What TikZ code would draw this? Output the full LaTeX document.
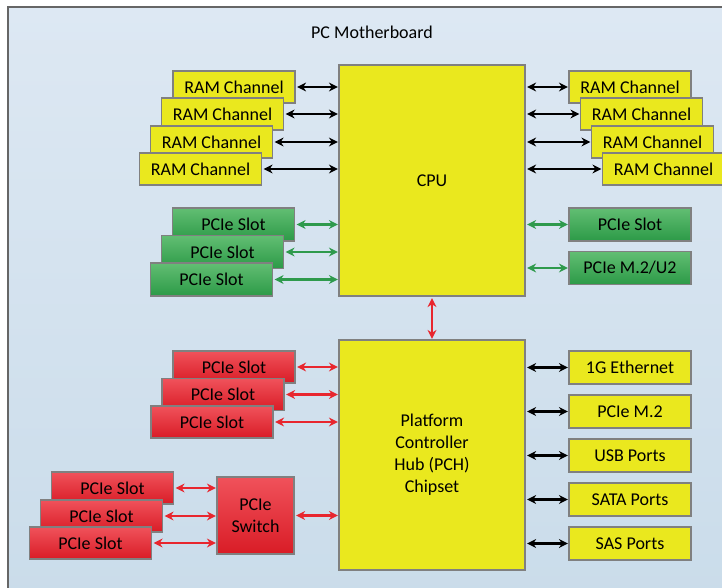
\documentclass[tikz,border=0pt]{standalone}
\usepackage{fontspec}
\setmainfont{Carlito}
\usetikzlibrary{arrows.meta}
\definecolor{bgtop}{HTML}{DDE8F3}
\definecolor{bgbot}{HTML}{CADCEA}
\definecolor{ylw}{HTML}{EAE81E}
\definecolor{grtop}{HTML}{62BE73}
\definecolor{grbot}{HTML}{2C9A47}
\definecolor{rdtop}{HTML}{F0525B}
\definecolor{rdbot}{HTML}{D91C26}
\definecolor{garr}{HTML}{2E9A4C}
\definecolor{rarr}{HTML}{E8262E}
\definecolor{edge}{HTML}{808080}
\tikzset{
  base/.style={draw=edge, line width=1.2pt, inner sep=0pt, font=\fontsize{18}{21}\selectfont, text=black},
  ybox/.style={base, fill=ylw, minimum width=122pt, minimum height=32pt},
  gbox/.style={base, top color=grtop, bottom color=grbot, minimum width=122pt, minimum height=33pt},
  rbox/.style={base, top color=rdtop, bottom color=rdbot, draw=black!50, minimum width=122pt, minimum height=32pt},
  link/.style={line width=2.6pt, {Stealth[length=9pt,width=9pt]}-{Stealth[length=9pt,width=9pt]}, shorten <=1.5pt, shorten >=0.5pt},
  blink/.style={link, draw=black},
  glink/.style={link, draw=garr},
  rlink/.style={link, draw=rarr},
}
\begin{document}
\begin{tikzpicture}[x=1pt, y=-1pt]
\useasboundingbox (0,0) rectangle (722,588);
\fill[white] (0,0) rectangle (722,588);
\shade[top color=bgtop, bottom color=bgbot] (8,7) rectangle (740,600);
\draw[black!60, line width=1.5pt] (8,600) -- (8,7) -- (740,7);
\node[font=\fontsize{18}{21}\selectfont] (title) at (372,32) {PC Motherboard};

% main chips
\node[base, fill=ylw, minimum width=186pt, minimum height=231pt] (cpu) at (432,180.5) {CPU};
\node[base, fill=ylw, minimum width=186pt, minimum height=230pt, align=center] (pch) at (432,455)
  {Platform\\[1pt]Controller\\[1pt]Hub (PCH)\\[1pt]Chipset};

% left RAM
\node[ybox] (rl1) at (234,87) {RAM Channel};
\node[ybox] (rl2) at (222.5,114) {RAM Channel};
\node[ybox] (rl3) at (211.5,142) {RAM Channel};
\node[ybox] (rl4) at (200.5,169) {RAM Channel};
% right RAM
\node[ybox] (rr1) at (630,87) {RAM Channel};
\node[ybox] (rr2) at (641.5,114) {RAM Channel};
\node[ybox] (rr3) at (652.5,142) {RAM Channel};
\node[ybox] (rr4) at (663.5,169) {RAM Channel};

% green PCIe
\node[gbox] (gl1) at (233.5,224.5) {PCIe Slot};
\node[gbox] (gl2) at (222.5,252) {PCIe Slot};
\node[gbox] (gl3) at (211.5,279.5) {PCIe Slot};
\node[gbox] (gr1) at (630,224.5) {PCIe Slot};
\node[gbox] (gr2) at (630,268) {PCIe M.2/U2};

% red PCIe near PCH
\node[rbox] (pl1) at (234,367) {PCIe Slot};
\node[rbox] (pl2) at (223,394.5) {PCIe Slot};
\node[rbox] (pl3) at (212,422) {PCIe Slot};

% switch group
\node[rbox] (sl1) at (112.5,488) {PCIe Slot};
\node[rbox] (sl2) at (101.5,516) {PCIe Slot};
\node[rbox] (sl3) at (90.5,543) {PCIe Slot};
\node[rbox, minimum width=77pt, minimum height=77pt, align=center] (sw) at (255.5,515.5) {PCIe\\[1pt]Switch};

% PCH right
\node[ybox, minimum height=33pt] (eth) at (630,367.5) {1G Ethernet};
\node[ybox, minimum height=33pt] (m2) at (630,411.5) {PCIe M.2};
\node[ybox, minimum height=33pt] (usb) at (630,455.5) {USB Ports};
\node[ybox, minimum height=33pt] (sata) at (630,499.5) {SATA Ports};
\node[ybox, minimum height=33pt] (sas) at (630,543.5) {SAS Ports};

% connectors
\foreach \n in {rl1,rl2,rl3,rl4} \draw[blink] (\n.east) -- (\n.east -| cpu.west);
\foreach \n in {rr1,rr2,rr3,rr4} \draw[blink] (\n.west -| cpu.east) -- (\n.west);
\foreach \n in {gl1,gl2,gl3} \draw[glink] (\n.east) -- (\n.east -| cpu.west);
\foreach \n in {gr1,gr2} \draw[glink] (\n.west -| cpu.east) -- (\n.west);
\foreach \n in {pl1,pl2,pl3} \draw[rlink] (\n.east) -- (\n.east -| pch.west);
\foreach \n in {sl1,sl2,sl3} \draw[rlink] (\n.east) -- (\n.east -| sw.west);
\draw[rlink] (sw.east) -- (sw.east -| pch.west);
\foreach \n in {eth,m2,usb,sata,sas} \draw[blink] (\n.west -| pch.east) -- (\n.west);
\draw[rlink] (cpu.south) -- (pch.north);
\end{tikzpicture}
\end{document}
